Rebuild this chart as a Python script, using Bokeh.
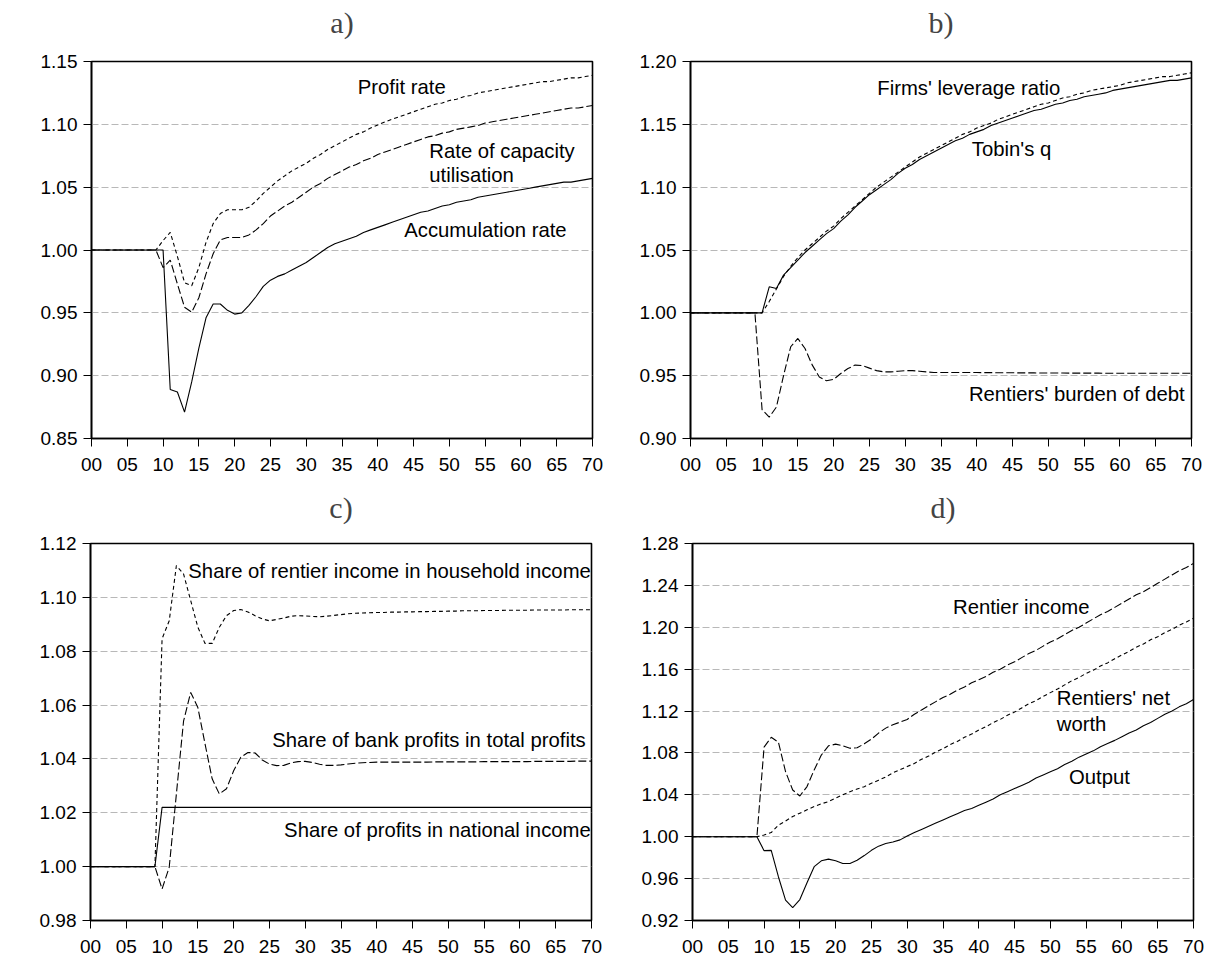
from bokeh.plotting import figure
from bokeh.models import FixedTicker, Label, Range1d, NumeralTickFormatter, Title
from bokeh.layouts import column, row
from bokeh.embed import file_html
from bokeh.resources import INLINE

years = list(range(71))
x_ticks = [0, 5, 10, 15, 20, 25, 30, 35, 40, 45, 50, 55, 60, 65, 70]
x_tick_labels = ["00", "05", "10", "15", "20", "25", "30", "35", "40", "45", "50", "55", "60", "65", "70"]

# ---- panel a ----
a_yticks = [0.85, 0.90, 0.95, 1.00, 1.05, 1.10, 1.15]
a_profit_rate = [1.0] * 10 + [
    1.0075, 1.014, 0.995, 0.974, 0.9715, 0.986, 1.006, 1.021, 1.029, 1.032,
    1.032, 1.032, 1.034, 1.039, 1.045, 1.050, 1.055, 1.059, 1.063, 1.066,
    1.069, 1.073, 1.076, 1.080, 1.083, 1.086, 1.089, 1.092, 1.094, 1.097,
    1.0995, 1.102, 1.104, 1.106, 1.108, 1.110, 1.112, 1.114, 1.116, 1.117,
    1.119, 1.120, 1.122, 1.123, 1.125, 1.126, 1.127, 1.128, 1.129, 1.130,
    1.131, 1.132, 1.133, 1.134, 1.134, 1.135, 1.136, 1.137, 1.137, 1.138, 1.139]
a_capacity = [1.0] * 10 + [
    0.986, 0.992, 0.973, 0.9545, 0.9505, 0.962, 0.981, 0.997, 1.008, 1.010,
    1.010, 1.010, 1.012, 1.016, 1.021, 1.027, 1.031, 1.035, 1.038, 1.042,
    1.046, 1.050, 1.053, 1.057, 1.060, 1.063, 1.066, 1.068, 1.071, 1.073,
    1.076, 1.078, 1.080, 1.082, 1.084, 1.086, 1.088, 1.090, 1.091, 1.093,
    1.094, 1.096, 1.097, 1.098, 1.099, 1.101, 1.102, 1.103, 1.104, 1.105,
    1.106, 1.107, 1.108, 1.109, 1.110, 1.111, 1.112, 1.113, 1.113, 1.114, 1.115]
a_accumulation = [1.0] * 10 + [
    1.000, 0.889, 0.887, 0.871, 0.895, 0.922, 0.946, 0.957, 0.957, 0.952,
    0.949, 0.950, 0.956, 0.963, 0.971, 0.976, 0.979, 0.981, 0.984, 0.987,
    0.990, 0.994, 0.998, 1.002, 1.005, 1.007, 1.009, 1.011, 1.014, 1.016,
    1.018, 1.020, 1.022, 1.024, 1.026, 1.028, 1.030, 1.031, 1.033, 1.035,
    1.036, 1.038, 1.039, 1.040, 1.042, 1.043, 1.044, 1.045, 1.046, 1.047,
    1.048, 1.049, 1.050, 1.051, 1.052, 1.053, 1.054, 1.054, 1.055, 1.056, 1.057]

# ---- panel b ----
b_yticks = [0.90, 0.95, 1.00, 1.05, 1.10, 1.15, 1.20]
b_tobins_q = [1.0] * 11 + [
    1.0207, 1.0193, 1.030, 1.036, 1.042, 1.048, 1.053, 1.058, 1.063,
    1.067, 1.073, 1.078, 1.084, 1.089, 1.094, 1.098, 1.102, 1.106, 1.111,
    1.115, 1.118, 1.122, 1.125, 1.128, 1.131, 1.134, 1.137, 1.139, 1.142,
    1.144, 1.146, 1.149, 1.151, 1.153, 1.155, 1.157, 1.159, 1.161, 1.162,
    1.164, 1.166, 1.167, 1.169, 1.170, 1.172, 1.173, 1.174, 1.175, 1.177,
    1.178, 1.179, 1.180, 1.181, 1.182, 1.183, 1.184, 1.185, 1.185, 1.186, 1.187]
b_leverage = [1.0] * 11 + [
    1.009, 1.019, 1.029, 1.037, 1.044, 1.050, 1.055, 1.060, 1.065,
    1.069, 1.075, 1.080, 1.085, 1.090, 1.095, 1.100, 1.104, 1.108, 1.112,
    1.116, 1.120, 1.124, 1.127, 1.130, 1.133, 1.136, 1.139, 1.142, 1.144,
    1.147, 1.149, 1.151, 1.154, 1.156, 1.158, 1.160, 1.162, 1.164, 1.166,
    1.167, 1.169, 1.171, 1.172, 1.174, 1.175, 1.177, 1.178, 1.179, 1.180,
    1.181, 1.183, 1.184, 1.185, 1.186, 1.187, 1.188, 1.188, 1.189, 1.190, 1.191]
b_burden = [1.0] * 10 + [
    0.923, 0.917, 0.925, 0.950, 0.973, 0.9796, 0.9716, 0.9586, 0.949, 0.9459,
    0.947, 0.9517, 0.9557, 0.9584, 0.958, 0.956, 0.954, 0.953, 0.953, 0.9535,
    0.954, 0.954, 0.9535, 0.953, 0.9525, 0.9525, 0.9525, 0.9525, 0.9525, 0.9525,
    0.9525, 0.9524, 0.9524, 0.9523, 0.9523, 0.9523, 0.9522, 0.9522, 0.9522, 0.9521,
    0.9521, 0.9521, 0.9521, 0.9520, 0.9520, 0.9520, 0.9520, 0.9520, 0.9519, 0.9519,
    0.9519, 0.9519, 0.9519, 0.9519, 0.9519, 0.9519, 0.9519, 0.9519, 0.9519, 0.9519, 0.9519]

# ---- panel c ----
c_yticks = [0.98, 1.00, 1.02, 1.04, 1.06, 1.08, 1.10, 1.12]
c_rentier_share = [1.0] * 10 + [
    1.0846, 1.0913, 1.1118, 1.1087, 1.0988, 1.0889, 1.0829, 1.0829, 1.0889, 1.0932,
    1.0951, 1.0955, 1.0946, 1.0932, 1.0920, 1.0913, 1.0918, 1.0923, 1.0930, 1.0932,
    1.0931, 1.0929, 1.0928, 1.0930, 1.0933, 1.0936, 1.0939, 1.0941, 1.0942, 1.0943,
    1.0944, 1.0944, 1.0945, 1.0945, 1.0946, 1.0946, 1.0947, 1.0947, 1.0948, 1.0948,
    1.0949, 1.0949, 1.0950, 1.0950, 1.0950, 1.0951, 1.0951, 1.0951, 1.0952, 1.0952,
    1.0952, 1.0952, 1.0953, 1.0953, 1.0953, 1.0953, 1.0953, 1.0954, 1.0954, 1.0954, 1.0954]
c_bank_share = [1.0] * 10 + [
    0.9917, 0.9998, 1.027, 1.054, 1.0647, 1.0591, 1.0456, 1.0326, 1.027, 1.0289,
    1.0356, 1.0406, 1.0424, 1.0422, 1.0396, 1.0381, 1.0375, 1.0376, 1.0385, 1.0390,
    1.0391, 1.0387, 1.0380, 1.0376, 1.0376, 1.0378, 1.0381, 1.0384, 1.0386, 1.0387,
    1.0388, 1.0388, 1.0388, 1.0388, 1.0388, 1.0388, 1.0388, 1.0388, 1.0389, 1.0389,
    1.0389, 1.0389, 1.0389, 1.0389, 1.0389, 1.0390, 1.0390, 1.0390, 1.0390, 1.0390,
    1.0390, 1.0390, 1.0391, 1.0391, 1.0391, 1.0391, 1.0391, 1.0391, 1.0392, 1.0392, 1.0392]
c_profit_share = [1.0] * 10 + [1.022] * 61

# ---- panel d ----
d_yticks = [0.92, 0.96, 1.00, 1.04, 1.08, 1.12, 1.16, 1.20, 1.24, 1.28]
d_rentier_income = [1.0] * 10 + [
    1.0855, 1.095, 1.0903, 1.0622, 1.0446, 1.0389, 1.0479, 1.0638, 1.078, 1.0868,
    1.0884, 1.0868, 1.0845, 1.085, 1.0887, 1.0932, 1.099, 1.1037, 1.107, 1.1094,
    1.112, 1.117, 1.121, 1.125, 1.129, 1.133, 1.136, 1.140, 1.143, 1.147,
    1.150, 1.153, 1.157, 1.160, 1.164, 1.167, 1.171, 1.175, 1.178, 1.182,
    1.186, 1.189, 1.193, 1.197, 1.200, 1.204, 1.208, 1.212, 1.215, 1.219,
    1.223, 1.227, 1.231, 1.234, 1.238, 1.242, 1.246, 1.250, 1.254, 1.257, 1.261]
d_net_worth = [1.0] * 10 + [
    1.0016, 1.004, 1.011, 1.015, 1.0193, 1.0225, 1.0257, 1.0288, 1.0314, 1.0336,
    1.0368, 1.040, 1.043, 1.0455, 1.0478, 1.051, 1.054, 1.057, 1.061, 1.064,
    1.067, 1.070, 1.074, 1.077, 1.081, 1.084, 1.088, 1.091, 1.095, 1.098,
    1.102, 1.105, 1.109, 1.112, 1.116, 1.119, 1.123, 1.127, 1.130, 1.134,
    1.1376, 1.141, 1.145, 1.149, 1.152, 1.156, 1.159, 1.163, 1.166, 1.170,
    1.1736, 1.177, 1.181, 1.184, 1.188, 1.191, 1.195, 1.198, 1.202, 1.205, 1.2086]
d_output = [1.0] * 10 + [
    0.9867, 0.987, 0.9618, 0.9394, 0.9324, 0.940, 0.956, 0.9714, 0.977, 0.9786,
    0.977, 0.9745, 0.9745, 0.9775, 0.982, 0.987, 0.991, 0.9935, 0.995, 0.997,
    1.0006, 1.004, 1.007, 1.010, 1.013, 1.016, 1.019, 1.022, 1.025, 1.027,
    1.030, 1.033, 1.036, 1.040, 1.043, 1.046, 1.049, 1.052, 1.056, 1.059,
    1.062, 1.065, 1.069, 1.072, 1.076, 1.079, 1.082, 1.086, 1.089, 1.092,
    1.0955, 1.099, 1.102, 1.106, 1.109, 1.113, 1.117, 1.120, 1.124, 1.127, 1.131]

SANS = "Liberation Sans"
SERIF = "Liberation Serif"
SOLID = "solid"
LONG = "8 3"
SHORT = "4 3"


def panel(title, yticks, width, height, bl, br, bt, bb, gap):
    p = figure(width=width, height=height, output_backend="svg", toolbar_location=None,
               x_range=Range1d(0, 70), y_range=Range1d(yticks[0], yticks[-1]),
               min_border_left=bl, min_border_right=br, min_border_top=bt, min_border_bottom=bb,
               title=title)
    p.title.align = "center"
    p.title.text_font = SERIF
    p.title.text_font_size = "30px"
    p.title.text_font_style = "normal"
    p.title.standoff = 0
    # blank spacer between the frame and the title, lifting the title up
    p.add_layout(Title(text=" ", text_font_size="10px", standoff=gap), "above")
    p.background_fill_color = "white"
    p.border_fill_color = "white"
    p.outline_line_color = "black"
    p.outline_line_width = 1.6
    p.outline_line_alpha = 1.0
    p.xgrid.visible = False
    p.ygrid.ticker = FixedTicker(ticks=yticks)
    p.ygrid.grid_line_color = "#b8b8b8"
    p.ygrid.grid_line_dash = "7 3"
    p.ygrid.grid_line_width = 1
    p.xaxis.ticker = FixedTicker(ticks=x_ticks)
    p.xaxis.major_label_overrides = {t: s for t, s in zip(x_ticks, x_tick_labels)}
    p.yaxis.ticker = FixedTicker(ticks=yticks)
    p.yaxis.formatter = NumeralTickFormatter(format="0.00")
    for ax in (p.xaxis[0], p.yaxis[0]):
        ax.axis_line_color = "black"
        ax.axis_line_width = 1.6
        ax.major_tick_line_color = "black"
        ax.major_tick_line_width = 1
        ax.major_tick_out = 8
        ax.major_tick_in = 0
        ax.minor_tick_out = 0
        ax.minor_tick_in = 0
        ax.major_label_text_font = SANS
        ax.major_label_text_font_size = "19px"
        ax.major_label_text_color = "black"
    p.xaxis.major_label_standoff = 11
    p.yaxis.major_label_standoff = 6
    return p


def add_label(p, x, y, text):
    p.add_layout(Label(x=x, y=y, text=text, text_font=SANS, text_font_size="20.3px",
                       text_baseline="middle", text_align="left", text_color="black"))


def add_line(p, ys, dash):
    p.line(years, ys, line_color="black", line_width=1.1, line_dash=dash)


pa = panel("a)", a_yticks, 608, 488, 91, 16, 61, 50, 10)
add_line(pa, a_accumulation, SOLID)
add_line(pa, a_capacity, LONG)
add_line(pa, a_profit_rate, SHORT)
add_label(pa, 37.2, 1.130, "Profit rate")
add_label(pa, 47.2, 1.079, "Rate of capacity")
add_label(pa, 47.2, 1.060, "utilisation")
add_label(pa, 43.7, 1.016, "Accumulation rate")

pb = panel("b)", b_yticks, 600, 488, 82, 17, 61, 50, 10)
add_line(pb, b_tobins_q, SOLID)
add_line(pb, b_leverage, SHORT)
add_line(pb, b_burden, LONG)
add_label(pb, 26.1, 1.179, "Firms' leverage ratio")
add_label(pb, 39.3, 1.1305, "Tobin's q")
add_label(pb, 38.9, 0.9355, "Rentiers' burden of debt")

pc = panel("c)", c_yticks, 608, 476, 90, 17, 55, 44, 7)
add_line(pc, c_profit_share, SOLID)
add_line(pc, c_bank_share, LONG)
add_line(pc, c_rentier_share, SHORT)
add_label(pc, 13.67, 1.1099, "Share of rentier income in household income")
add_label(pc, 25.4, 1.0472, "Share of bank profits in total profits")
add_label(pc, 27.05, 1.0137, "Share of profits in national income")

pd_ = panel("d)", d_yticks, 600, 476, 84, 15, 55, 44, 7)
add_line(pd_, d_output, SOLID)
add_line(pd_, d_rentier_income, LONG)
add_line(pd_, d_net_worth, SHORT)
add_label(pd_, 36.4, 1.2196, "Rentier income")
add_label(pd_, 50.9, 1.1323, "Rentiers' net")
add_label(pd_, 50.9, 1.1080, "worth")
add_label(pd_, 52.6, 1.0568, "Output")

layout = column(row(pa, pb), row(pc, pd_))
open("out.html", "w").write(file_html(layout, INLINE))
